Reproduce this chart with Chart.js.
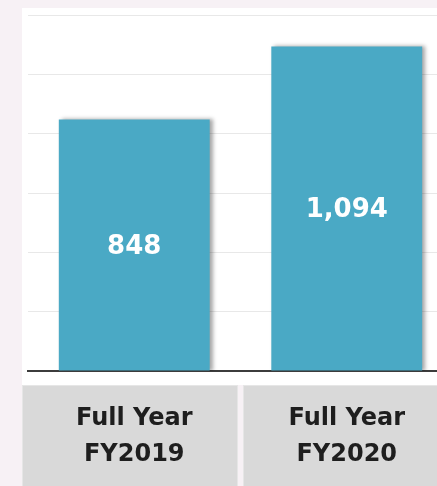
<!DOCTYPE html>
<html>
<head>
<meta charset="utf-8">
<script src="https://cdn.jsdelivr.net/npm/chart.js@4/dist/chart.umd.min.js"></script>
<style>
  html, body { margin: 0; padding: 0; background: #f7f1f5; overflow: hidden; }
  #wrap { width: 460px; height: 486px; }
</style>
</head>
<body>
<div id="wrap"><canvas id="salesChart" width="460" height="486"></canvas></div>
<script>
// chart data
const categories = [['Full Year', 'FY2019'], ['Full Year', 'FY2020']];
const salesValues = [848, 1094];
const yTicks = [0, 200, 400, 600, 800, 1000, 1200];

const barColor = '#4aa9c5';
const fontFamily = '"DejaVu Sans", Verdana, sans-serif';

// white panel + grey category boxes behind the chart
const backdrop = {
  id: 'backdrop',
  beforeDraw(chart) {
    const ctx = chart.ctx;
    const area = chart.chartArea;
    const x = chart.scales.x;
    ctx.save();
    ctx.fillStyle = '#ffffff';
    ctx.fillRect(area.left - 6, area.top - 7, chart.width, x.top + 14 - area.top + 7);

    const half = (x.getPixelForValue(1) - x.getPixelForValue(0)) / 2;
    const boxTop = x.top + 14;
    categories.forEach((c, i) => {
      const mid = x.getPixelForValue(i);
      let l = mid - half + 2.5;
      let r = mid + half - 2.5;
      if (i === 0) l = area.left - 6;
      ctx.fillStyle = '#d9d9d9';
      ctx.fillRect(l, boxTop, r - l, chart.height - boxTop);
      ctx.strokeStyle = '#e6e6e6';
      ctx.lineWidth = 1;
      ctx.strokeRect(l + 0.5, boxTop + 0.5, r - l - 1, chart.height - boxTop);
    });
    ctx.restore();
  }
};

// soft shadow on bars
const barShadow = {
  id: 'barShadow',
  beforeDatasetDraw(chart) {
    const ctx = chart.ctx;
    ctx.save();
    ctx.shadowColor = 'rgba(0,0,0,0.35)';
    ctx.shadowOffsetX = 3;
    ctx.shadowOffsetY = 0;
    ctx.shadowBlur = 4;
  },
  afterDatasetDraw(chart) {
    chart.ctx.restore();
  }
};

// value labels in the middle of each bar
const valueLabels = {
  id: 'valueLabels',
  afterDatasetsDraw(chart) {
    const ctx = chart.ctx;
    const meta = chart.getDatasetMeta(0);
    ctx.save();
    ctx.fillStyle = '#ffffff';
    ctx.font = 'bold 26px ' + fontFamily;
    ctx.textAlign = 'center';
    ctx.textBaseline = 'middle';
    meta.data.forEach((bar, i) => {
      const p = bar.getProps(['x', 'y', 'base'], true);
      ctx.fillText(salesValues[i].toLocaleString('en-US'), p.x, (p.y + p.base) / 2 + 2);
    });
    ctx.restore();
  }
};

new Chart(document.getElementById('salesChart'), {
  type: 'bar',
  data: {
    labels: categories,
    datasets: [{
      data: salesValues,
      backgroundColor: barColor,
      borderWidth: 0,
      barPercentage: 0.71,
      categoryPercentage: 1
    }]
  },
  options: {
    responsive: false,
    animation: false,
    layout: { padding: { left: 28, right: 7, top: 15, bottom: 0 } },
    plugins: {
      legend: { display: false },
      tooltip: { enabled: false }
    },
    scales: {
      x: {
        grid: { display: false },
        border: { display: true, color: '#3c3c3c', width: 2 },
        ticks: {
          color: '#1e1e1e',
          padding: 22,
          font: { family: fontFamily, size: 24, weight: 'bold', lineHeight: 1.5 },
          maxRotation: 0
        },
        afterFit(scale) { scale.height = 115; }
      },
      y: {
        min: 0,
        max: 1200,
        afterBuildTicks(scale) { scale.ticks = yTicks.map(v => ({ value: v })); },
        ticks: { display: false },
        grid: { color: '#e8e8e8', lineWidth: 1, drawTicks: false },
        border: { display: false },
        afterFit(scale) { scale.width = 0; }
      }
    }
  },
  plugins: [backdrop, barShadow, valueLabels]
});
</script>
</body>
</html>
